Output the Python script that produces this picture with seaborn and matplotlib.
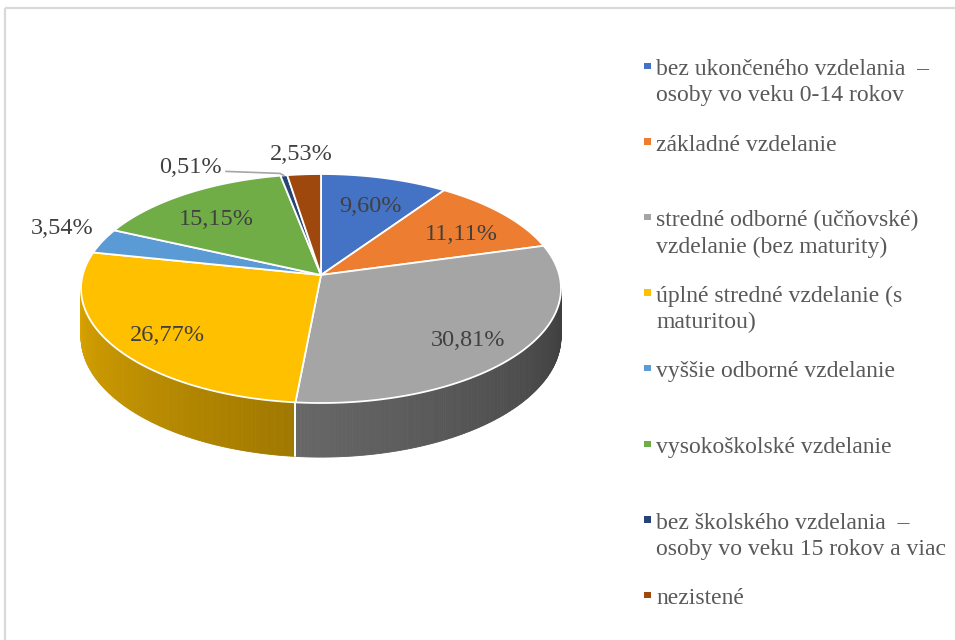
import numpy as np
import matplotlib
matplotlib.use("Agg")
import matplotlib.pyplot as plt
import seaborn as sns
from matplotlib.patches import Polygon, Rectangle

# ---- data -------------------------------------------------------------
categories = [
    ["bez ukončeného vzdelania  –", "osoby vo veku 0-14 rokov"],
    ["základné vzdelanie"],
    ["stredné odborné (učňovské)", "vzdelanie (bez maturity)"],
    ["úplné stredné vzdelanie (s", "maturitou)"],
    ["vyššie odborné vzdelanie"],
    ["vysokoškolské vzdelanie"],
    ["bez školského vzdelania  –", "osoby vo veku 15 rokov a viac"],
    ["nezistené"],
]
shares = [9.60, 11.11, 30.81, 26.77, 3.54, 15.15, 0.51, 2.53]
colors = ["#4472C4", "#ED7D31", "#A5A5A5", "#FFC000",
          "#5B9BD5", "#70AD47", "#264478", "#9E480E"]

# ---- style ------------------------------------------------------------
sns.set_theme(style="white")
plt.rcParams["font.family"] = ["Liberation Serif", "DejaVu Serif"]
palette = sns.color_palette(colors)

W, H = 955, 640
fig = plt.figure(figsize=(W / 100, H / 100), dpi=100)
ax = fig.add_axes([0, 0, 1, 1])
ax.set_xlim(0, W)
ax.set_ylim(H, 0)
ax.axis("off")

# chart area frame
ax.add_patch(Rectangle((4.5, 7.5), 1200, 1200, fill=False,
                       edgecolor="#D9D9D9", lw=1.6, zorder=0))

# ---- 3-D pie geometry (tilted disc seen in perspective) ---------------
CX, CY = 321.0, 275.0
RX, RY = 238.3, 112.9
K = 0.118          # perspective strength
DEPTH = 47.7       # thickness of the disc


def proj(phi_deg, t=1.0):
    phi = np.radians(phi_deg)
    w = 1 + K * t * np.cos(phi)
    return CX + RX * t * np.sin(phi) / w, CY - RY * t * np.cos(phi) / w


def depth_at(phi_deg):
    return DEPTH / (1 + K * np.cos(np.radians(phi_deg)))


total = sum(shares)
bounds = np.concatenate([[0], np.cumsum(shares)]) / total * 360.0
phi_l = np.degrees(np.arccos(-K))
phi_r = 360 - phi_l


def shade(phi):
    # side lit from the left: brighter on the left, darker to the right
    return 0.37 + (phi - phi_l) / (phi_r - phi_l) * (0.85 - 0.37)


# visible outer wall
for i, col in enumerate(palette):
    a0, a1 = max(bounds[i], phi_l), min(bounds[i + 1], phi_r)
    if a1 <= a0:
        continue
    steps = np.linspace(a0, a1, max(3, int((a1 - a0) * 2)))
    for p, q in zip(steps[:-1], steps[1:]):
        u0, v0 = proj(p)
        u1, v1 = proj(q)
        f = shade(0.5 * (p + q))
        c = tuple(np.clip(np.array(col) * f, 0, 1))
        ax.add_patch(Polygon([(u0, v0), (u1, v1),
                              (u1, v1 + depth_at(q)), (u0, v0 + depth_at(p))],
                             closed=True, facecolor=c, edgecolor=c,
                             lw=0.6, zorder=1))
# slice seams on the wall
for b in bounds[1:-1]:
    if phi_l < b < phi_r:
        u, v = proj(b)
        ax.plot([u, u], [v, v + depth_at(b)], color="white", lw=1.4, zorder=2)

# top faces
for i, col in enumerate(palette):
    arc = np.linspace(bounds[i], bounds[i + 1], max(4, int(shares[i] * 8)))
    pts = [(CX, CY)] + [proj(a) for a in arc]
    ax.add_patch(Polygon(pts, closed=True, facecolor=col,
                         edgecolor="white", lw=1.3, joinstyle="round",
                         zorder=3))

# ---- data labels -------------------------------------------------------
label_color = "#404040"
fs_lab = 17.5
texts = [f"{v:.2f}".replace(".", ",") + "%" for v in shares]
mids = (bounds[:-1] + bounds[1:]) / 2
for i, txt in enumerate(texts):
    if shares[i] < 5:
        continue
    u, v = proj(mids[i], 0.76)
    ax.text(u, v + 7, txt, ha="center", va="center", fontsize=fs_lab,
            color=label_color, zorder=5)

# small slices: labels outside the pie
u, v = proj(mids[4])
ax.text(u - 9, v - 13, texts[4], ha="right", va="center", fontsize=fs_lab,
        color=label_color, zorder=5)
u, v = proj(mids[7])
ax.text(u - 3, v - 20, texts[7], ha="center", va="center", fontsize=fs_lab,
        color=label_color, zorder=5)
u, v = proj(mids[6])
ax.plot([u - 58, u - 4, u], [v - 4, v - 2, v], color="#A6A6A6", lw=1.2,
        zorder=4)
ax.text(u - 62, v - 8, texts[6], ha="right", va="center", fontsize=fs_lab,
        color=label_color, zorder=5)

# ---- legend -------------------------------------------------------------
legend_color = "#595959"
fs_leg = 17
y_first, y_step, line_h = 68.0, 75.6, 26.5
for i, (lines, col) in enumerate(zip(categories, palette)):
    y0 = y_first + i * y_step
    ax.add_patch(Rectangle((644, y0 - 5.5), 6.5, 6.5, facecolor=col,
                           edgecolor="none", zorder=5))
    for j, line in enumerate(lines):
        ax.text(656, y0 + 7 + j * line_h, line, ha="left", va="baseline",
                fontsize=fs_leg, color=legend_color, zorder=5)

fig.savefig("out.png", dpi=100)
